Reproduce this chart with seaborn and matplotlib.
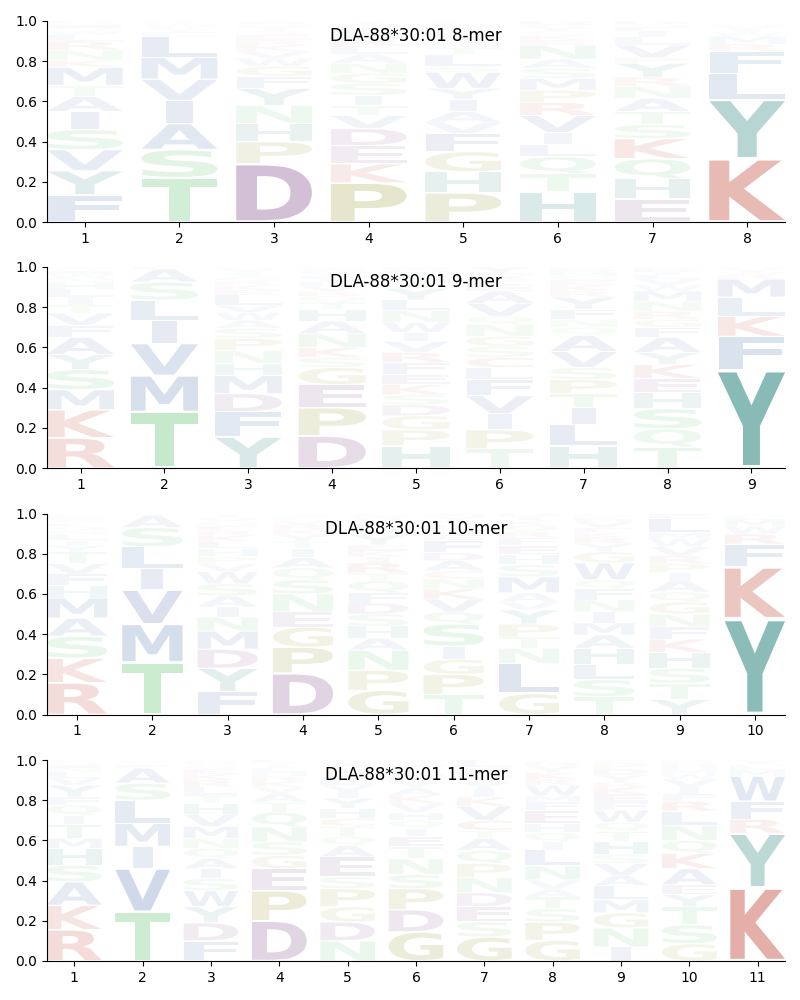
import matplotlib
matplotlib.use("Agg")
import matplotlib.pyplot as plt
import seaborn as sns
from matplotlib.textpath import TextPath
from matplotlib.patches import PathPatch
from matplotlib.font_manager import FontProperties
from matplotlib.transforms import Affine2D

# ---------------- data (letters listed bottom -> top per position) ----------------
titles = ["DLA-88*30:01 8-mer", "DLA-88*30:01 9-mer",
          "DLA-88*30:01 10-mer", "DLA-88*30:01 11-mer"]

mer8_letters = ["FYVSIATMKNRLWQEGD", "TSAIVMLFYCWQK", "DPHNYFGWVKRESTQA",
                "PKEDVTISGNALRHFQY", "PHGFVAIYWSLTNEKRDMQC", "HTQLIVRPMSANEKGYFD",
                "EHQKSTANRYPVLIFGD", "KYLFRMWIVHQN"]
mer8_freqs = [
    [.135, .12, .105, .10, .09, .075, .055, .09, .035, .05, .045, .03, .02, .015, .015, .01, .01],
    [.22, .14, .13, .115, .105, .11, .105, .02, .015, .01, .01, .01, .01],
    [.29, .11, .09, .09, .085, .06, .05, .04, .035, .03, .025, .025, .02, .02, .015, .015],
    [.195, .095, .09, .085, .065, .05, .05, .06, .05, .05, .045, .04, .035, .03, .025, .02, .015],
    [.145, .105, .10, .09, .055, .055, .06, .055, .08, .03, .06, .03, .025, .02, .02, .015, .015, .015, .015, .01],
    [.15, .09, .085, .06, .06, .085, .065, .06, .06, .05, .045, .07, .025, .025, .02, .02, .015, .015],
    [.115, .10, .10, .10, .07, .065, .065, .06, .045, .07, .03, .06, .04, .03, .02, .015, .015],
    [.315, .295, .13, .11, .035, .04, .02, .015, .015, .01, .01, .005],
]

mer9_letters = ["RKMSYAFVTILHNWEQG", "TMVILSAF", "YFDMHNPSAWVLEKRGTIQC",
                "DPEGSKNAHTQRVLIFYMWC", "HPGDSKEFRVIWNLYTAQM", "TPIVFLCSGNQVAEKRMY",
                "HLITPSVAQNFYRKEGMDW", "TQSHEKYAFGRNMWVLIDP", "YFKLMRWIHV"]
mer9_freqs = [
    [.15, .14, .10, .10, .075, .085, .06, .06, .04, .04, .04, .03, .025, .02, .015, .01, .01],
    [.28, .18, .16, .115, .10, .09, .065, .01],
    [.155, .125, .09, .09, .06, .065, .06, .05, .04, .04, .035, .05, .025, .025, .02, .02, .015, .015, .015, .005],
    [.16, .14, .115, .085, .05, .05, .07, .06, .06, .035, .03, .025, .025, .02, .015, .015, .015, .01, .01, .01],
    [.11, .08, .07, .055, .05, .05, .05, .06, .05, .055, .045, .05, .06, .05, .06, .04, .03, .025, .01],
    [.095, .095, .08, .09, .08, .06, .05, .055, .05, .06, .04, .065, .06, .03, .025, .02, .015, .03],
    [.11, .105, .085, .07, .07, .06, .08, .08, .04, .04, .05, .06, .03, .03, .025, .02, .02, .015, .01],
    [.105, .09, .10, .08, .07, .07, .06, .075, .05, .04, .04, .05, .05, .03, .03, .02, .015, .015, .01],
    [.49, .165, .10, .095, .09, .02, .015, .01, .01, .005],
]

mer10_letters = ["RKSAMHFVTYILNQEGWDP", "TMVILSAF", "FYDMNIASWVPHLKREGQTC",
                 "DPGENSQAITYKRVLHF", "GPNAHSDFQTRIKEYVLMWC", "TPGISQVKNCADFEHLRYM",
                 "GLNTPYVAMSHEFRQKID", "TSLHAMINFQWGYRKEVDPC", "YTSHKFNGQAIPRVWMLEDC",
                 "YKFRWMLHI"]
mer10_freqs = [
    [.158, .122, .11, .09, .10, .06, .06, .05, .06, .03, .025, .03, .02, .02, .015, .015, .01, .01, .015],
    [.26, .19, .17, .105, .11, .095, .06, .01],
    [.115, .115, .095, .09, .07, .05, .055, .06, .06, .04, .035, .04, .035, .03, .025, .025, .02, .02, .015, .005],
    [.205, .13, .10, .075, .09, .07, .06, .05, .045, .035, .035, .025, .025, .02, .015, .01, .01],
    [.12, .10, .10, .06, .06, .06, .055, .05, .06, .04, .05, .03, .03, .03, .05, .03, .025, .02, .015, .015],
    [.10, .10, .075, .065, .11, .06, .065, .05, .05, .04, .05, .04, .06, .03, .025, .025, .02, .02, .015],
    [.105, .15, .075, .055, .065, .07, .04, .045, .08, .06, .05, .045, .04, .03, .03, .025, .02, .015],
    [.088, .086, .076, .08, .065, .061, .054, .06, .055, .045, .085, .055, .04, .03, .025, .025, .03, .015, .015, .01],
    [.075, .08, .075, .08, .065, .06, .065, .06, .05, .055, .04, .045, .04, .045, .04, .03, .07, .025, .02, .01],
    [.478, .255, .115, .05, .04, .03, .015, .01, .007],
]

mer11_letters = ["RKASHMTIQFYVLNEGP", "TVIMLSAFYCQ", "FDYWSIAQNMVHTLRKEGPC",
                 "DPEGSNQTAVKRHLIYF", "NDGPSEAQTCHYIVLKRFMW", "GDPSNTEIQHVKAYRLFMW",
                 "GSEDNPQATCVKIYWHRFML", "GPSTAVNLIQHEFMWRKYDC", "INGMLAVSHTQWFEKRYDPC",
                 "GSTYEAKQNLRFIVWMHDP", "KYRFWMLHIV"]
mer11_freqs = [
    [.156, .121, .117, .083, .083, .05, .07, .045, .05, .04, .06, .035, .03, .02, .015, .015, .01],
    [.245, .215, .11, .115, .115, .085, .075, .015, .01, .01, .005],
    [.10, .09, .08, .08, .06, .05, .05, .05, .05, .06, .06, .055, .04, .04, .035, .03, .025, .02, .015, .01],
    [.20, .15, .11, .066, .067, .075, .072, .05, .045, .03, .03, .025, .02, .02, .015, .015, .01],
    [.10, .094, .076, .09, .06, .098, .057, .045, .05, .04, .05, .05, .035, .03, .03, .025, .025, .02, .015, .01],
    [.145, .11, .105, .07, .08, .06, .05, .04, .04, .04, .045, .04, .035, .03, .03, .03, .02, .015, .015],
    [.12, .075, .077, .068, .075, .07, .065, .06, .04, .05, .07, .045, .04, .035, .02, .02, .015, .01, .01, .035],
    [.103, .09, .067, .058, .04, .045, .07, .08, .04, .045, .045, .065, .045, .03, .05, .03, .035, .03, .02, .01],
    [.07, .095, .075, .065, .07, .05, .06, .045, .065, .05, .045, .06, .04, .04, .035, .025, .035, .03, .03, .015],
    [.086, .094, .09, .06, .05, .08, .075, .065, .075, .07, .05, .035, .035, .04, .025, .02, .02, .015, .015],
    [.365, .27, .07, .09, .125, .03, .02, .01, .01, .01],
]

panels = [(mer8_letters, mer8_freqs), (mer9_letters, mer9_freqs),
          (mer10_letters, mer10_freqs), (mer11_letters, mer11_freqs)]

# ---------------- colours ----------------
RED = (0.71, 0.14, 0.07)
PURPLE = (0.42, 0.16, 0.45)
OLIVE = (0.50, 0.50, 0.0)
GREEN = (0.22, 0.70, 0.27)
TEAL = (0.05, 0.45, 0.42)
BLUE = (0.14, 0.32, 0.60)
aa_colors = {}
for c in "KRC":
    aa_colors[c] = RED
for c in "DE":
    aa_colors[c] = PURPLE
for c in "PG":
    aa_colors[c] = OLIVE
for c in "STNQ":
    aa_colors[c] = GREEN
for c in "HY":
    aa_colors[c] = TEAL
for c in "AVLIMFW":
    aa_colors[c] = BLUE

sns.set_style("ticks")
plt.rcParams.update({
    'font.family': ['DejaVu Sans'],
    'text.color': 'black',
    'axes.edgecolor': 'black',
    'axes.labelcolor': 'black',
    'xtick.color': 'black',
    'ytick.color': 'black',
})

fp = FontProperties(family="DejaVu Sans", weight="bold")
ref_ext = TextPath((0, 0), "E", size=1, prop=fp).get_extents()


def draw_letter(ax, ch, x, y0, h, width=0.8, vpad=0.06):
    path = TextPath((0, 0), ch, size=1, prop=fp)
    ext = path.get_extents()
    hs = min(width / ext.width, width / ref_ext.width)
    gh = h * (1 - vpad)
    vs = gh / ext.height
    t = (Affine2D().translate(-ext.x0 - ext.width / 2, -ext.y0)
         .scale(hs, vs).translate(x, y0 + h * vpad / 2))
    alpha = min(1.0, h)
    patch = PathPatch(t.transform_path(path), facecolor=aa_colors[ch],
                      edgecolor="none", alpha=alpha, lw=0)
    ax.add_patch(patch)


fig = plt.figure(figsize=(8, 10), dpi=100)
bottoms = [0.778, 0.532, 0.2855, 0.039]
for (letters, freqs), title, b in zip(panels, titles, bottoms):
    ax = fig.add_axes([47 / 800, b, 738 / 800, 0.201])
    n = len(letters)
    for i, (lets, fr) in enumerate(zip(letters, freqs)):
        y = 0.0
        for ch, f in zip(lets, fr):
            draw_letter(ax, ch, i + 1, y, f)
            y += f
    ax.set_xlim(0.6, n + 0.4)
    ax.set_ylim(0, 1)
    ax.set_xticks(range(1, n + 1))
    ax.set_xticklabels([str(k) for k in range(1, n + 1)])
    ax.set_yticks([0, 0.2, 0.4, 0.6, 0.8, 1.0])
    ax.set_yticklabels(["0.0", "0.2", "0.4", "0.6", "0.8", "1.0"])
    ax.tick_params(labelsize=10, colors="black")
    sns.despine(ax=ax)
    ax.text(0.5, 0.925, title, transform=ax.transAxes, ha="center",
            va="center", fontsize=12, color="black")

fig.savefig("out.png", dpi=100)
